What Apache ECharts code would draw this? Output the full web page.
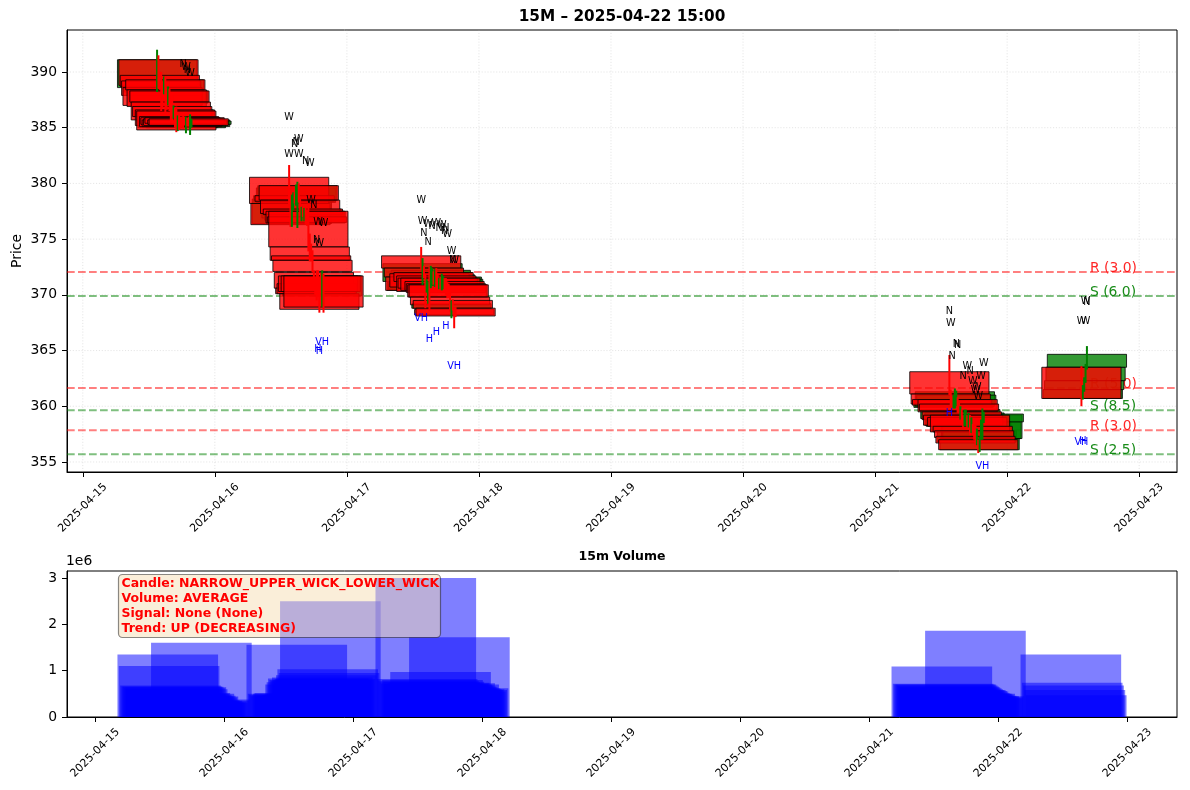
<!DOCTYPE html>
<html>
<head>
<meta charset="utf-8">
<script src="https://cdn.jsdelivr.net/npm/echarts@6/dist/echarts.min.js"></script>
<style>html,body{margin:0;padding:0;background:#fff}#c{width:1190px;height:790px}</style>
</head>
<body>
<div id="c"></div>
<script>
// ---------------- DATA ----------------
const titleText = '15M \u2013 2025-04-22 15:00';
const volumeTitle = '15m Volume';
const sessionDays = ['2025-04-15', '2025-04-16', '2025-04-17', '2025-04-21', '2025-04-22'];
const slotTimes = ['13:30','13:45','14:00','14:15','14:30','14:45','15:00','15:15','15:30','15:45','16:00','16:15','16:30',
                   '16:45','17:00','17:15','17:30','17:45','18:00','18:15','18:30','18:45','19:00','19:15','19:30','19:45'];

const opens = [
  [388.6,391.1,389.7,389.2,388.6,388.2,389.3,388.4,387.2,388.3,387.3,386.9,386.0,386.6,386.5,385.0,386.0,385.9,385.7,385.8,385.9,385.0,385.7,385.8,385.1,385.3],
  [380.55,378.2,376.4,378.4,378.9,378.3,378.5,379.8,378.5,376.9,377.7,376.7,377.5,377.0,377.5,374.3,373.5,373.1,372.0,370.6,371.0,371.7,370.1,371.7,369.9,371.7],
  [373.5,371.2,372.4,371.6,370.4,370.5,371.9,370.7,371.0,372.0,370.9,371.7,371.5,370.6,371.5,370.5,370.8,371.2,371.0,370.9,370.9,369.8,368.8,369.5,368.7,368.8],
  [363.1,361.1,360.6,359.9,360.0,360.2,360.6,360.2,358.9,359.5,359.2,358.3,358.2,359.0,358.3,359.2,357.8,358.2,357.8,357.3,356.8,357.0,356.1,357.1,357.1,358.6],
  [363.5,360.7,361.5,362.3,363.5]
];
const highs = [
  [392.0,391.5,390.0,390.0,389.0,389.6,389.6,388.6,388.7,388.5,387.6,387.9,387.0,386.8,386.9,386.1,386.2,386.0,386.0,386.2,386.0,386.0,385.9,386.0,386.2,385.8],
  [381.65,379.1,379.0,379.2,379.2,379.9,380.15,380.0,378.8,377.9,377.9,377.8,377.8,377.6,378.2,375.5,374.6,374.0,372.2,371.0,372.2,372.2,370.5,372.0,372.2,371.9],
  [374.3,373.3,372.6,371.8,371.4,371.2,372.5,372.6,372.4,372.1,372.3,372.4,371.9,371.5,371.6,371.9,371.7,371.5,371.5,371.2,371.0,370.4,369.5,369.6,368.9,368.9],
  [364.6,361.5,360.9,361.0,361.6,361.4,360.8,360.3,360.0,359.7,359.2,359.7,359.7,359.2,359.4,359.2,359.0,358.4,358.3,358.3,358.0,357.0,357.3,358.8,359.8,359.5],
  [363.6,361.9,362.6,363.8,365.4]
];
const lows = [
  [388.2,388.5,388.4,386.5,386.8,388.0,386.4,386.6,387.0,386.5,385.6,385.4,385.8,385.0,384.6,384.7,384.8,384.9,385.0,384.9,385.2,384.5,385.1,385.1,384.35,385.0],
  [378.0,376.1,376.1,377.6,378.2,378.0,376.0,378.3,377.2,376.6,377.0,376.6,376.3,376.2,373.9,373.0,373.0,372.0,370.4,370.0,369.5,369.8,368.4,370.1,368.9,368.4],
  [372.2,370.9,371.5,368.8,370.2,369.2,368.6,370.6,370.8,370.9,370.7,370.2,370.4,370.5,370.3,370.4,370.5,370.2,370.0,369.7,369.7,368.5,367.9,368.6,367.0,368.0],
  [361.0,360.0,359.9,359.8,359.8,360.0,359.4,359.4,358.8,358.6,358.0,358.2,358.2,358.0,358.1,357.4,357.6,357.4,357.0,356.4,356.5,355.8,355.9,357.0,357.0,358.5],
  [360.0,360.6,361.3,362.1,363.3]
];
const closes = [
  [391.1,388.8,388.7,387.9,387.0,389.3,388.4,386.9,388.3,387.3,385.7,386.0,386.6,385.2,384.8,385.8,385.1,385.3,385.1,385.2,385.4,385.6,385.3,385.2,385.7,385.6],
  [378.2,376.3,378.6,378.9,378.4,379.6,379.8,378.5,377.3,377.7,377.2,377.5,376.45,376.5,374.3,373.1,373.1,372.1,370.6,370.1,370.1,370.3,368.7,370.3,371.7,368.9],
  [372.4,372.8,371.6,370.4,371.1,371.0,370.7,372.2,372.0,371.2,371.8,370.3,370.6,371.3,370.4,371.6,371.4,370.4,370.2,369.8,369.8,369.1,369.2,368.8,368.2,368.1],
  [361.1,360.2,360.1,360.6,361.3,361.0,359.5,359.6,359.7,358.8,358.3,359.4,359.2,358.2,359.0,357.7,358.6,357.7,357.2,356.7,357.8,356.1,357.1,358.6,359.2,359.3],
  [360.7,361.5,362.3,363.5,364.66]
];
const volumes = [
  [1.35e6,1.10e6,0.68e6,0.66e6,0.65e6,0.62e6,0.64e6,0.60e6,0.50e6,0.52e6,0.48e6,0.45e6,0.50e6,0.46e6,0.42e6,0.44e6,0.36e6,0.34e6,0.35e6,0.32e6,0.30e6,0.33e6,0.31e6,0.35e6,0.38e6,1.60e6],
  [1.56e6,0.50e6,0.48e6,0.45e6,0.47e6,0.50e6,0.52e6,0.46e6,0.44e6,0.42e6,0.45e6,0.43e6,0.46e6,0.48e6,0.70e6,0.75e6,0.83e6,0.80e6,0.78e6,0.85e6,0.80e6,0.82e6,0.90e6,1.03e6,0.95e6,2.50e6],
  [3.00e6,0.82e6,0.78e6,0.75e6,0.72e6,0.80e6,0.76e6,0.70e6,0.68e6,0.72e6,0.74e6,0.97e6,0.70e6,0.68e6,0.73e6,0.66e6,0.64e6,0.70e6,0.62e6,0.60e6,0.58e6,0.60e6,0.55e6,0.58e6,0.62e6,1.72e6],
  [1.09e6,0.72e6,0.70e6,0.70e6,0.68e6,0.66e6,0.64e6,0.62e6,0.60e6,0.58e6,0.58e6,0.56e6,0.55e6,0.52e6,0.50e6,0.50e6,0.48e6,0.50e6,0.46e6,0.44e6,0.45e6,0.42e6,0.40e6,0.42e6,0.45e6,1.86e6],
  [1.35e6,0.74e6,0.68e6,0.58e6,0.47e6]
];

const xTickLabels = ['2025-04-15','2025-04-16','2025-04-17','2025-04-18','2025-04-19','2025-04-20','2025-04-21','2025-04-22','2025-04-23'];
const priceTicks = [355, 360, 365, 370, 375, 380, 385, 390];
const volumeTicks = [0, 1e6, 2e6, 3e6];

const srKinds = ['R', 'S', 'R', 'S', 'R', 'S'];
const srLevels = [372.05, 369.9, 361.64, 359.65, 357.85, 355.7];
const srStrengths = [3.0, 6.0, 5.0, 8.5, 3.0, 2.5];

const markTimes = [
  '2025-04-15 18:15','2025-04-15 18:45','2025-04-15 19:00','2025-04-15 19:30',
  '2025-04-16 13:30','2025-04-16 14:30','2025-04-16 14:45','2025-04-16 15:15','2025-04-16 13:30','2025-04-16 15:15',
  '2025-04-16 16:30','2025-04-16 17:15','2025-04-16 17:30','2025-04-16 18:00','2025-04-16 18:45','2025-04-16 19:45',
  '2025-04-16 18:30','2025-04-16 19:00','2025-04-16 19:30','2025-04-16 18:45','2025-04-16 19:00',
  '2025-04-17 13:30','2025-04-17 13:45','2025-04-17 14:00','2025-04-17 14:45','2025-04-17 14:45','2025-04-17 15:30',
  '2025-04-17 16:15','2025-04-17 16:45','2025-04-17 17:15','2025-04-17 17:45','2025-04-17 18:00','2025-04-17 18:15',
  '2025-04-17 19:00','2025-04-17 19:15','2025-04-17 19:30','2025-04-17 13:30','2025-04-17 15:00','2025-04-17 16:15',
  '2025-04-17 18:00','2025-04-17 19:30',
  '2025-04-21 13:30','2025-04-21 13:45','2025-04-21 14:00','2025-04-21 14:45','2025-04-21 15:00','2025-04-21 16:00',
  '2025-04-21 16:45','2025-04-21 17:15','2025-04-21 17:45','2025-04-21 18:15','2025-04-21 18:30','2025-04-21 18:45',
  '2025-04-21 19:15','2025-04-21 19:45','2025-04-21 13:30','2025-04-21 19:30',
  '2025-04-22 14:15','2025-04-22 14:30','2025-04-22 13:30','2025-04-22 14:15','2025-04-22 13:30','2025-04-22 13:45'
];
const markPrices = [
  390.66, 390.45, 390.18, 389.91,
  385.93, 383.5, 383.7, 383.96, 382.6, 382.6,
  382.0, 381.8, 378.45, 378.06, 376.5, 376.4,
  374.9, 374.6, 365.7, 365.1, 364.95,
  378.5, 376.57, 375.5, 374.7, 376.3, 376.1,
  376.4, 376.0, 376.2, 375.7, 376.0, 375.4,
  373.87, 373.1, 373.1, 367.9, 365.95, 366.6,
  367.2, 363.6,
  368.5, 367.4, 364.45, 365.56, 365.45, 362.65,
  363.56, 363.1, 362.2, 361.45, 361.7, 360.87,
  362.65, 363.86, 359.37, 354.6,
  369.4, 369.3, 367.6, 367.6, 356.74, 356.85
];
const markTexts = [
  'N','W','N','W',
  'W','N','N','W','W','W',
  'N','W','W','N','W','W',
  'N','W','VH','H','H',
  'W','W','N','N','W','N',
  'W','N','W','N','N','W',
  'W','N','W','VH','H','H',
  'H','VH',
  'N','W','N','N','N','N',
  'W','N','W','W','W','W',
  'W','W','H','VH',
  'W','N','W','W','VH','H'
];

const infoLines = [
  'Candle: NARROW_UPPER_WICK_LOWER_WICK',
  'Volume: AVERAGE',
  'Signal: None (None)',
  'Trend: UP (DECREASING)'
];

// ---------------- BUILD ----------------
const FONT = '"DejaVu Sans", "Liberation Sans", sans-serif';
const DAY0 = Date.UTC(2025, 3, 15);
function toDays(s) {
  const parts = s.split(' ');
  const [Y, M, D] = parts[0].split('-').map(Number);
  let hh = 0, mm = 0;
  if (parts[1]) { [hh, mm] = parts[1].split(':').map(Number); }
  return (Date.UTC(Y, M - 1, D, hh, mm) - DAY0) / 86400000;
}
const BODY_W = 0.6;   // body width in days
const VOL_W = 0.78;   // volume bar width in days

const candles = [];
sessionDays.forEach((day, d) => {
  opens[d].forEach((o, i) => {
    candles.push({ t: toDays(day + ' ' + slotTimes[i]), o: o, h: highs[d][i], l: lows[d][i], c: closes[d][i], v: volumes[d][i] });
  });
});
const lastT = candles[candles.length - 1].t;
const upData = candles.filter(k => k.c >= k.o).map(k => [k.t, k.o, k.c]);
const downData = candles.filter(k => k.c < k.o).map(k => [k.t, k.o, k.c]);
const wickData = candles.map(k => [k.t, k.h, k.l, k.c >= k.o ? 1 : 0]);
const volData = candles.map(k => [k.t, k.v]);
const markData = markTimes.map((s, k) => [toDays(s), markPrices[k], k]);
const xTickVals = xTickLabels.map(toDays);
const xLabelOf = {};
xTickLabels.forEach((s, k) => { xLabelOf[xTickVals[k]] = s; });
const gridLineData = xTickVals.map(v => [0, v]).concat(priceTicks.map(v => [1, v]));

function bodyRender(fill) {
  return function (params, api) {
    const t = api.value(0), o = api.value(1), c = api.value(2);
    const p1 = api.coord([t - BODY_W / 2, Math.max(o, c)]);
    const p2 = api.coord([t + BODY_W / 2, Math.min(o, c)]);
    return {
      type: 'rect',
      shape: { x: p1[0], y: p1[1], width: p2[0] - p1[0], height: Math.max(p2[1] - p1[1], 0.6) },
      style: { fill: fill, stroke: 'rgba(0,0,0,0.8)', lineWidth: 1 }
    };
  };
}

const chart = echarts.init(document.getElementById('c'), null, { renderer: 'canvas' });

const axisCommon = {
  axisLine: { show: true, onZero: false, lineStyle: { color: '#000', width: 1 } },
  splitLine: { show: false }
};

const option = {
  animation: false,
  backgroundColor: '#fff',
  grid: [
    { left: 67, top: 30, width: 1110, height: 442, show: true, borderColor: '#000', borderWidth: 1, backgroundColor: 'transparent', containLabel: false, outerBoundsMode: 'none' },
    { left: 67, top: 571, width: 1110, height: 146, show: true, borderColor: '#000', borderWidth: 1, backgroundColor: 'transparent', containLabel: false, outerBoundsMode: 'none' }
  ],
  xAxis: [
    Object.assign({
      type: 'value', gridIndex: 0, min: -0.1196, max: 8.2863,
      axisTick: { show: true, length: 5, customValues: xTickVals, lineStyle: { color: '#000' } },
      axisLabel: { customValues: xTickVals, formatter: v => xLabelOf[v] || '', rotate: 45, align: 'center', verticalAlign: 'middle',
                   margin: 36, fontSize: 11, color: '#000', fontFamily: FONT }
    }, axisCommon),
    Object.assign({
      type: 'value', gridIndex: 1, min: -0.2186, max: 8.3853,
      axisTick: { show: true, length: 5, customValues: xTickVals, lineStyle: { color: '#000' } },
      axisLabel: { customValues: xTickVals, formatter: v => xLabelOf[v] || '', rotate: 45, align: 'center', verticalAlign: 'middle',
                   margin: 36, fontSize: 11, color: '#000', fontFamily: FONT }
    }, axisCommon)
  ],
  yAxis: [
    Object.assign({
      type: 'value', gridIndex: 0, min: 354.1, max: 393.77,
      axisTick: { show: true, length: 5, customValues: priceTicks, lineStyle: { color: '#000' } },
      axisLabel: { customValues: priceTicks, fontSize: 13.9, color: '#000', margin: 10, fontFamily: FONT },
      name: 'Price', nameLocation: 'middle', nameGap: 43, nameMoveOverlap: false,
      nameTextStyle: { fontSize: 13.9, color: '#000', fontFamily: FONT }
    }, axisCommon),
    Object.assign({
      type: 'value', gridIndex: 1, min: 0, max: 3.15e6,
      axisTick: { show: true, length: 5, customValues: volumeTicks, lineStyle: { color: '#000' } },
      axisLabel: { customValues: volumeTicks, formatter: v => String(Math.round(v / 1e6)), fontSize: 13.9, color: '#000', margin: 10, fontFamily: FONT }
    }, axisCommon)
  ],
  graphic: [
    { type: 'text', x: 622, y: 17, z: 50, style: { text: titleText, fill: '#000', fontSize: 15.3, fontWeight: 'bold', fontFamily: FONT, align: 'center', verticalAlign: 'middle' } },
    { type: 'text', x: 622, y: 557, z: 50, style: { text: volumeTitle, fill: '#000', fontSize: 12.5, fontWeight: 'bold', fontFamily: FONT, align: 'center', verticalAlign: 'middle' } },
    { type: 'text', x: 66, y: 561.5, z: 50, style: { text: '1e6', fill: '#000', fontSize: 13.9, fontFamily: FONT, align: 'left', verticalAlign: 'middle' } },
    { type: 'rect', z: 100, shape: { x: 118.5, y: 574.5, width: 322, height: 63, r: 4 },
      style: { fill: 'rgba(245,222,179,0.5)', stroke: 'rgba(0,0,0,0.45)', lineWidth: 1.2 } },
    { type: 'text', z: 101, x: 121.5, y: 576, style: { text: infoLines.join('\n'), fill: '#ff0000', fontSize: 12.5, fontWeight: 'bold',
      fontFamily: FONT, lineHeight: 15, align: 'left', verticalAlign: 'top' } }
  ],
  series: [
    { // grid lines
      type: 'custom', xAxisIndex: 0, yAxisIndex: 0, z: 1, silent: true,
      data: gridLineData,
      renderItem: function (params, api) {
        const cs = params.coordSys;
        const kind = api.value(0), v = api.value(1);
        let shape;
        if (kind === 0) { const x = api.coord([v, 370])[0]; shape = { x1: x, y1: cs.y, x2: x, y2: cs.y + cs.height }; }
        else { const y = api.coord([1, v])[1]; shape = { x1: cs.x, y1: y, x2: cs.x + cs.width, y2: y }; }
        return { type: 'line', shape: shape, style: { stroke: 'rgba(170,170,170,0.3)', lineWidth: 1, lineDash: [1.1, 1.8] } };
      }
    },
    { // support / resistance
      type: 'custom', xAxisIndex: 0, yAxisIndex: 0, z: 2, silent: true,
      data: srLevels.map((lv, k) => [lastT, lv, k]),
      renderItem: function (params, api) {
        const cs = params.coordSys;
        const k = api.value(2);
        const p = api.coord([api.value(0), api.value(1)]);
        const isR = srKinds[k] === 'R';
        return {
          type: 'group',
          children: [
            { type: 'line', shape: { x1: cs.x, y1: p[1], x2: cs.x + cs.width, y2: p[1] },
              style: { stroke: isR ? 'rgba(255,0,0,0.5)' : 'rgba(0,128,0,0.5)', lineWidth: 2, lineDash: [7.7, 3.3] } },
            { type: 'text', x: p[0] + 3, y: p[1] - 4,
              style: { text: srKinds[k] + ' (' + srStrengths[k].toFixed(1) + ')', fill: isR ? 'rgba(255,0,0,0.85)' : 'rgba(0,128,0,0.9)',
                       fontSize: 13.9, fontFamily: FONT, align: 'left', verticalAlign: 'middle' } }
          ]
        };
      }
    },
    { type: 'custom', xAxisIndex: 0, yAxisIndex: 0, z: 3, silent: true, data: upData, renderItem: bodyRender('rgba(0,128,0,0.8)') },
    { type: 'custom', xAxisIndex: 0, yAxisIndex: 0, z: 4, silent: true, data: downData, renderItem: bodyRender('rgba(255,0,0,0.8)') },
    { // wicks
      type: 'custom', xAxisIndex: 0, yAxisIndex: 0, z: 5, silent: true, data: wickData,
      renderItem: function (params, api) {
        const t = api.value(0);
        const a = api.coord([t, api.value(1)]), b = api.coord([t, api.value(2)]);
        return { type: 'line', shape: { x1: a[0], y1: a[1], x2: b[0], y2: b[1] },
                 style: { stroke: api.value(3) === 1 ? '#008000' : '#ff0000', lineWidth: 2 } };
      }
    },
    { // pattern marks
      type: 'custom', xAxisIndex: 0, yAxisIndex: 0, z: 6, silent: true, data: markData,
      renderItem: function (params, api) {
        const p = api.coord([api.value(0), api.value(1)]);
        const txt = markTexts[api.value(2)];
        const isVol = txt === 'H' || txt === 'VH';
        return { type: 'text', x: p[0], y: p[1],
                 style: { text: txt, fill: isVol ? '#0000ff' : '#000', fontSize: 9.7, fontFamily: FONT, align: 'center', verticalAlign: 'middle' } };
      }
    },
    { // volume
      type: 'custom', xAxisIndex: 1, yAxisIndex: 1, z: 2, silent: true, data: volData,
      renderItem: function (params, api) {
        const t = api.value(0), v = api.value(1);
        const p1 = api.coord([t - VOL_W / 2, v]);
        const p2 = api.coord([t + VOL_W / 2, 0]);
        return { type: 'rect', shape: { x: p1[0], y: p1[1], width: p2[0] - p1[0], height: p2[1] - p1[1] },
                 style: { fill: 'rgba(0,0,255,0.5)' } };
      }
    }
  ]
};
chart.setOption(option);
</script>
</body>
</html>
